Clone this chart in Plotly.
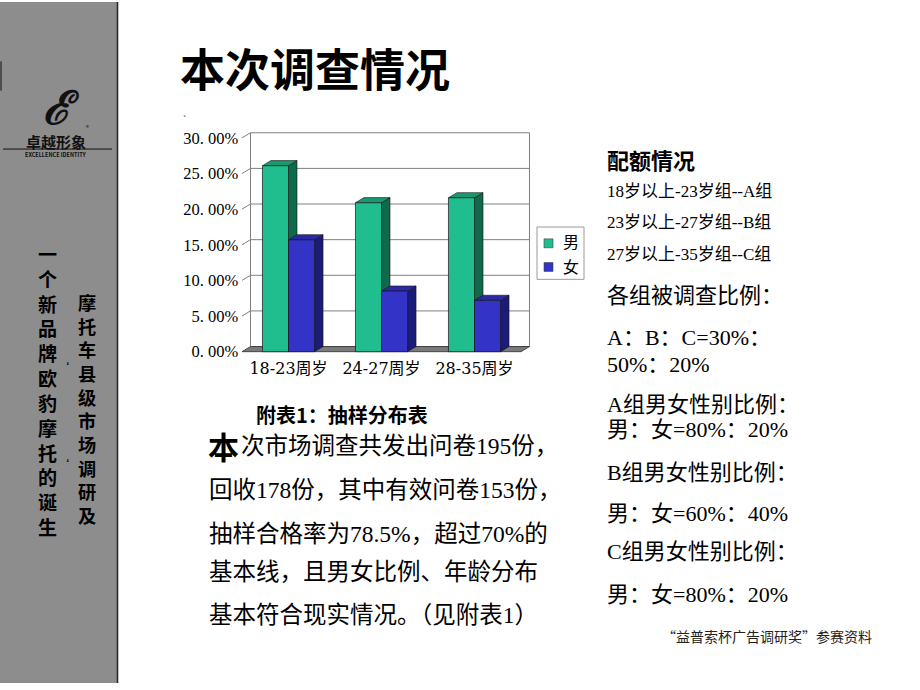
import plotly.graph_objects as go

W, H = 920, 690

# ---------------- data ----------------
categories = ["18-23周岁", "24-27周岁", "28-35周岁"]
series_names = ["男", "女"]
male = [26.1, 20.9, 21.6]
female = [15.7, 8.5, 7.2]
ytick_vals = [0, 5, 10, 15, 20, 25, 30]
ytick_text = ["0. 00%", "5. 00%", "10. 00%", "15. 00%", "20. 00%", "25. 00%", "30. 00%"]

title_text = "本次调查情况"
chart_caption = "附表1：抽样分布表"
para_first_char = "本"
para_lines = [
    "次市场调查共发出问卷195份，",
    "回收178份，其中有效问卷153份，",
    "抽样合格率为78.5%，超过70%的",
    "基本线，且男女比例、年龄分布",
    "基本符合现实情况。（见附表1）",
]
quota_title = "配额情况"
quota_lines = ["18岁以上-23岁组--A组", "23岁以上-27岁组--B组", "27岁以上-35岁组--C组"]
ratio_lines = ["各组被调查比例：", "A：B：C=30%：", "50%：20%", "A组男女性别比例：",
               "男：女=80%：20%", "B组男女性别比例：", "男：女=60%：40%",
               "C组男女性别比例：", "男：女=80%：20%"]
side_col_right = "摩托车县级市场调研及"
side_col_left = "一个新品牌欧豹摩托的诞生"
footer_text = "“益普索杯广告调研奖”参赛资料"

# ---------------- styles ----------------
SERIF = "Liberation Serif, Noto Sans CJK SC, serif"
WSERIF = "DejaVu Serif, Noto Sans CJK SC, serif"
SANS = "Noto Sans CJK SC, Liberation Sans, sans-serif"
GREEN_FRONT, GREEN_SIDE, GREEN_TOP = "#20BE8E", "#0F6A4C", "#189A70"
BLUE_FRONT, BLUE_SIDE, BLUE_TOP = "#3333C8", "#1B1B78", "#2A2AA5"
EDGE = "#151515"
WALL = "#808080"

fig = go.Figure()

# ---------------- chart geometry (front plane mapping) ----------------
X0, SX = 242.0, 93.0     # px of x=-0.5, px per category
Y0, SY = 354.3, 7.22     # px of y=0, px per percent
dx, dy = 8.5 / SX, 5.2 / SY   # 3D depth in data units
bw = 0.28                # bar width (each of two)

xmin, xmax = -0.53, 2.5 + dx + 0.03
ymin, ymax = -0.35, 30 + dy + 0.25
px_l = X0 + (xmin + 0.5) * SX
px_r = X0 + (xmax + 0.5) * SX
py_b = Y0 - ymin * SY
py_t = Y0 - ymax * SY

xs = list(range(len(categories)))

fig.add_bar(x=xs, y=male, name=series_names[0], showlegend=False,
            marker=dict(color=GREEN_FRONT, line=dict(color=EDGE, width=0.7)))
fig.add_bar(x=xs, y=female, name=series_names[1], showlegend=False,
            marker=dict(color=BLUE_FRONT, line=dict(color=EDGE, width=0.7)))

shapes = []
# back wall
shapes.append(dict(type="rect", xref="x", yref="y", x0=-0.5 + dx, x1=2.5 + dx, y0=dy, y1=30 + dy,
                   line=dict(color=WALL, width=1), layer="below"))
# grid lines on back wall + side-wall diagonals
for v in ytick_vals[1:]:
    if v < 30:
        shapes.append(dict(type="line", xref="x", yref="y", x0=-0.5 + dx, x1=2.5 + dx,
                           y0=v + dy, y1=v + dy, line=dict(color=WALL, width=1), layer="below"))
    shapes.append(dict(type="line", xref="x", yref="y", x0=-0.5, x1=-0.5 + dx,
                       y0=v, y1=v + dy, line=dict(color=WALL, width=1), layer="below"))
# floor
shapes.append(dict(type="path", xref="x", yref="y",
                   path=f"M {-0.5},0 L {2.5},0 L {2.5+dx},{dy} L {-0.5+dx},{dy} Z",
                   fillcolor="#7a7a7a", line=dict(color="#303030", width=0.8), layer="below"))


def bar_faces(xl, xr, v, side_col, top_col):
    side = f"M {xr},0 L {xr+dx},{dy} L {xr+dx},{v+dy} L {xr},{v} Z"
    top = f"M {xl},{v} L {xr},{v} L {xr+dx},{v+dy} L {xl+dx},{v+dy} Z"
    return [dict(type="path", xref="x", yref="y", path=side, fillcolor=side_col,
                 line=dict(color=EDGE, width=0.6), layer="below"),
            dict(type="path", xref="x", yref="y", path=top, fillcolor=top_col,
                 line=dict(color=EDGE, width=0.6), layer="below")]


for i, x in enumerate(xs):
    shapes += bar_faces(x - bw, x, male[i], GREEN_SIDE, GREEN_TOP)
    shapes += bar_faces(x, x + bw, female[i], BLUE_SIDE, BLUE_TOP)

# ---------------- slide decorations ----------------
def pxr(x0, y0, x1, y1, **kw):
    d = dict(type="rect", xref="paper", yref="paper", x0=x0 / W, x1=x1 / W,
             y0=1 - y1 / H, y1=1 - y0 / H, layer="below")
    d.update(kw)
    return d


def pxl(x0, y0, x1, y1, color, width):
    return dict(type="line", xref="paper", yref="paper", x0=x0 / W, x1=x1 / W,
                y0=1 - y0 / H, y1=1 - y1 / H, line=dict(color=color, width=width))


deco = [
    pxr(0, 0, 117, 690, fillcolor="#8d8d8d", line=dict(width=0)),
    pxl(117.5, 0, 117.5, 690, "#2a2a2a", 1.6),
    pxl(1, 60, 1, 90, "#3a3a3a", 1.5),
    pxl(3, 149, 112, 149, "#111111", 1),
    # legend box
    pxr(537, 228, 584, 281, fillcolor="white", line=dict(color="#9a9a9a", width=1)),
    pxr(544, 240, 553, 249, fillcolor=GREEN_FRONT, line=dict(color="#404040", width=0.6), layer="above"),
    pxr(544, 264, 553, 273, fillcolor=BLUE_FRONT, line=dict(color="#404040", width=0.6), layer="above"),
]
shapes = deco + shapes
fig.update_layout(shapes=shapes)


def txt(t, px, py, size, family, xanchor="left", bold=False, color="black"):
    fig.add_annotation(x=px / W, y=1 - py / H, xref="paper", yref="paper",
                       text=(f"<b>{t}</b>" if bold else t), showarrow=False,
                       xanchor=xanchor, yanchor="middle",
                       font=dict(size=size, family=family, color=color))


def vtext(chars, px, y_first, y_last):
    """Vertical (stacked) text as one multi-line annotation."""
    pitch = (y_last - y_first) / (len(chars) - 1)
    fig.add_annotation(x=px / W, y=1 - (y_first + y_last) / 2 / H, xref="paper", yref="paper",
                       text="<b>" + "<br>".join(chars) + "</b>", showarrow=False,
                       xanchor="center", yanchor="middle", align="center",
                       font=dict(size=pitch / 1.3, family=SANS, color="black"))


# title
txt(title_text, 178, 66, 45, SANS, bold=True)
txt("`", 181, 119, 10, SERIF)

# legend labels
txt(series_names[0], 561, 244, 16, SERIF)
txt(series_names[1], 561, 268, 16, SERIF)

# caption + paragraph
txt(chart_caption, 254, 418, 20, SANS, bold=True)
txt(para_first_char, 206, 449, 31, SANS, bold=True)
para_y = [450, 494, 539, 578, 621]
for k, line in enumerate(para_lines):
    txt(line, 239 if k == 0 else 207, para_y[k], 23.5, SERIF)

# right block
txt(quota_title, 605, 159, 22, SANS, bold=True)
for line, y in zip(quota_lines, [192, 223, 256]):
    txt(line, 605, y, 17, SERIF)
ratio_y = [297, 340, 367, 408, 433, 477, 518, 557, 600]
for line, y in zip(ratio_lines, ratio_y):
    txt(line, 605, y, 22, SERIF)

# footer
txt(footer_text, 660, 642, 14, SANS, color="#222222")

# sidebar vertical texts
vtext(side_col_right, 87, 305, 518)
vtext(side_col_left, 47, 257, 530)
for y in [369, 468]:
    txt("‘", 57, y, 10, SANS, bold=True)

# logo
txt("<i>ℰ</i>", 61, 107, 46, "DejaVu Serif", xanchor="center", bold=True, color="#111111")
txt("®", 87, 127, 6, SANS, xanchor="center", color="#111111")
txt("卓越形象", 56, 141, 15, SANS, xanchor="center", bold=True, color="#111111")
txt("EXCELLENCE IDENTITY", 56, 155, 5.5, SANS, xanchor="center", bold=True, color="#111111")

fig.update_layout(
    width=W, height=H,
    margin=dict(l=0, r=0, t=0, b=0),
    paper_bgcolor="white", plot_bgcolor="rgba(0,0,0,0)",
    barmode="group", bargap=1 - 2 * bw, bargroupgap=0,
    xaxis=dict(domain=[px_l / W, px_r / W], range=[xmin, xmax],
               tickvals=xs, ticktext=categories, showgrid=False, zeroline=False,
               showline=False, ticks="", ticklabelstandoff=3,
               tickfont=dict(size=16, family=WSERIF, color="black")),
    yaxis=dict(domain=[1 - py_b / H, 1 - py_t / H], range=[ymin, ymax],
               tickvals=ytick_vals, ticktext=ytick_text, showgrid=False, zeroline=False,
               showline=False, ticks="", tickfont=dict(size=16.5, family=SERIF, color="black")),
    showlegend=False,
)

fig.write_html("out.html")
